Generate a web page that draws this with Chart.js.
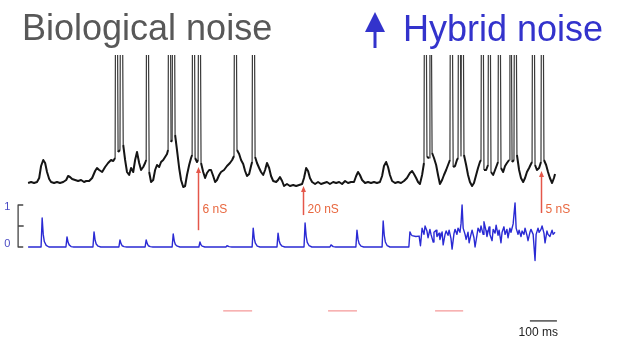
<!DOCTYPE html>
<html>
<head>
<meta charset="utf-8">
<script src="https://cdn.jsdelivr.net/npm/chart.js@4.4.1/dist/chart.umd.min.js"></script>
<style>
  html, body { margin: 0; padding: 0; background: #fff; }
  #wrap { position: relative; width: 618px; height: 342px; }
</style>
</head>
<body>
<div id="wrap"><canvas id="trace"></canvas></div>
<script>
// ─── DATA ────────────────────────────────────────────────────────────────
// membrane potential [ms, mV]; spikes are the +20 mV points (clipped in the figure)
const vmTrace = [
  [0,-65],[11,-64.8],[22,-65],[33,-64.8],[41,-64],[48,-61.6],[56,-60.4],[63,-61],[70,-62.8],[78,-64.2],
  [85,-64.8],[96,-65],[107,-64.8],[118,-65],[130,-64.8],[141,-64.4],[148,-63.6],[155,-63.8],[163,-64.2],
  [174,-64.4],[185,-64.6],[196,-64.4],[207,-64.8],[215,-64.6],[226,-64.6],[237,-64],[248,-62.6],[255,-62],
  [263,-62.4],[274,-62.8],[285,-61.8],[296,-61],[307,-60.4],[315,-60.6],[322,-60],
  [326,20],[333,-58.8],[340,-58.4],[344,20],[352,-57.4],[359,-60.4],[366,-62.8],[374,-63.4],[381,-62],
  [389,-62.8],[396,-60.4],[403,-58.8],[411,-61],[418,-62.4],[426,-61.8],[433,-61],[437,-60.4],[440,20],
  [448,-62.8],[455,-64.8],[463,-64.4],[470,-62.4],[477,-61.4],[485,-61.8],[492,-60.8],[500,-60.4],
  [507,-59.8],[514,-59.2],[518,-58.4],[522,20],[529,-56.8],[533,-56.4],[537,20],[544,-55.4],[551,-58.4],
  [559,-62],[566,-64.4],[574,-65.8],[581,-65.6],[588,-63.4],[596,-61.4],[603,-60],[607,-59.4],[611,20],
  [618,-60],[625,-60.8],[629,-60.4],[633,20],[640,-61],[648,-62.8],[655,-64],[662,-63],[670,-62.4],
  [677,-62.4],[685,-63.6],[692,-64.8],[699,-64.4],[707,-63.4],[714,-62.8],[725,-62.4],[736,-61.6],
  [747,-61],[755,-60.4],[762,-59.6],[766,20],[773,-58.4],[781,-59.2],[788,-60.4],[796,-61.2],[803,-62.6],
  [810,-63.6],[818,-63.2],[825,-61.6],[829,-60.8],[833,20],[840,-59.8],[847,-61],[855,-62],[862,-62.8],
  [870,-63.4],[877,-62.4],[884,-61],[892,-62],[899,-63.6],[907,-64.6],[918,-64.8],[925,-64.4],[932,-63.8],
  [940,-64.6],[947,-65.6],[958,-65.2],[969,-65.6],[981,-65.4],[992,-65.6],[1003,-65.4],[1014,-65.2],
  [1021,-64],[1029,-62],[1036,-62.6],[1043,-64],[1051,-64.8],[1062,-65.2],[1073,-64.8],[1084,-65.2],
  [1095,-65],[1106,-64.8],[1117,-65.2],[1129,-64.8],[1140,-65],[1151,-64.8],[1162,-65.2],[1173,-64.6],
  [1184,-65],[1195,-64.8],[1206,-64.8],[1214,-63.6],[1221,-62.8],[1228,-63.4],[1236,-64.4],[1247,-65],
  [1258,-64.8],[1269,-65],[1280,-64.8],[1291,-65],[1302,-64.8],[1310,-63.6],[1317,-61.6],[1325,-60.8],
  [1332,-61.8],[1339,-63.4],[1347,-64.6],[1358,-65],[1369,-64.8],[1380,-65],[1391,-64.6],[1402,-64],
  [1413,-63],[1421,-62.6],[1428,-63.2],[1436,-64],[1443,-64.8],[1450,-65.2],[1458,-63.4],[1465,-61],
  [1469,20],[1476,-59.8],[1484,-60],[1487,20],[1495,-59],[1502,-60],[1510,-61.4],[1517,-63.4],[1524,-65.2],
  [1532,-64.4],[1539,-63.4],[1547,-62.4],[1554,-61.4],[1561,-60.4],[1565,20],[1573,-61.8],[1580,-61.6],
  [1587,-60.4],[1591,-60],[1595,20],[1602,-59.6],[1606,20],[1613,-59.4],[1621,-61.4],[1628,-63.4],
  [1635,-64.8],[1643,-65.6],[1650,-65],[1658,-63.4],[1665,-62],[1672,-60.8],[1676,-60.4],[1680,20],
  [1687,-62.4],[1695,-62.4],[1702,-61.4],[1706,20],[1713,-62.8],[1721,-63.4],[1728,-62.4],[1735,-61.4],
  [1739,-60.8],[1743,20],[1750,-62],[1758,-62.8],[1765,-61.6],[1772,-61],[1780,-60.4],[1783,20],
  [1791,-60.8],[1798,-60.4],[1802,20],[1809,-59.4],[1817,-62.4],[1824,-64],[1832,-64.8],[1839,-64],
  [1846,-62.8],[1854,-62],[1861,-61.2],[1865,-60.8],[1869,20],[1876,-61.4],[1883,-62.4],[1891,-62],
  [1898,-60.8],[1902,20],[1909,-60.4],[1917,-61.4],[1924,-62.8],[1931,-64],[1939,-65],[1946,-64],[1950,-63.2]
];

// injected conductance, normalised 0..1 [ms, g]
const gTrace = [
  [0,0],[48,0],[52,0.69],[56,0.3],[60,0.13],[67,0.04],[77,0],
  [140,0],[144,0.24],[148,0.11],[152,0.05],[159,0.01],[169,0],
  [240,0],[244,0.36],[248,0.16],[252,0.07],[259,0.02],[269,0],
  [336,0],[340,0.17],[344,0.08],[348,0.03],[355,0.01],[365,0],
  [433,0],[437,0.17],[441,0.08],[445,0.03],[452,0.01],[462,0],
  [533,0],[537,0.31],[541,0.14],[545,0.06],[552,0.02],[562,0],
  [632,0],[636,0.12],[640,0.05],[644,0.02],[654,0],
  [732,0],[736,0.03],[744,0.01],[754,0],
  [829,0],[833,0.45],[837,0.2],[841,0.09],[848,0.02],[858,0],
  [921,0],[925,0.33],[929,0.15],[933,0.07],[940,0.02],[950,0],
  [1021,0],[1025,0.57],[1029,0.26],[1033,0.11],[1040,0.03],[1050,0],
  [1117,0],[1121,0.05],[1129,0.01],[1139,0],
  [1213,0],[1217,0.4],[1221,0.18],[1225,0.08],[1232,0.02],[1242,0],
  [1310,0],[1314,0.62],[1318,0.28],[1322,0.12],[1329,0.03],[1339,0],
  [1409,0],[1413,0.36],[1417,0.3],[1421,0.27],[1435,0.25],[1447,0.26],[1452,0.03],
  // hybrid noise part
  [1458,0.45],[1465,0.3],[1469,0.5],[1476,0.38],[1480,0.22],[1487,0.42],[1491,0.3],[1499,0.12],
  [1502,0.35],[1510,0.4],[1513,0.25],[1521,0.33],[1524,0.18],[1532,0.36],[1536,0.05],[1543,0.3],
  [1547,0.38],[1554,0.28],[1558,0.4],[1565,0.2],[1569,-0.05],[1576,0.32],[1580,0.42],[1587,0.3],
  [1591,0.45],[1598,0.35],[1602,0.55],[1606,1.0],[1610,0.45],[1617,0.3],[1621,0.18],[1628,0.35],
  [1632,0.1],[1639,0.3],[1643,0.4],[1650,0.22],[1654,0],[1661,0.28],[1665,0.45],[1672,0.35],
  [1676,0.5],[1684,0.3],[1687,0.6],[1695,0.38],[1698,0.25],[1706,0.48],[1709,0.3],[1717,0.15],
  [1721,0.42],[1728,0.33],[1732,0.52],[1739,0.28],[1743,0.4],[1750,0.1],[1754,0.35],[1761,0.48],
  [1765,0.3],[1772,0.42],[1776,0.22],[1783,0.45],[1787,0.35],[1795,0.55],[1802,1.05],[1806,0.45],
  [1813,0.3],[1817,0.4],[1824,0.25],[1828,0.38],[1835,0.3],[1839,0.45],[1846,0.28],[1850,0.15],
  [1857,0.35],[1861,0.42],[1869,0.3],[1876,-0.32],[1880,0.3],[1887,0.45],[1891,0.35],[1898,0.42],
  [1902,0.5],[1909,0.33],[1913,0.1],[1920,0.38],[1924,0.3],[1931,0.25],[1939,0.4],[1943,0.3],[1950,0.35]
];

// stimulation markers
const stimTimes  = [629, 1018, 1898];          // ms
const stimLabels = ['6 nS', '20 nS', '5 nS'];
const stimFromG  = [0.40, 0.76, 0.81];         // arrow foot, conductance units
const stimToVm   = [-61.8, -65.6, -62.6];      // arrow tip, mV

// faint stimulus windows under the traces
const windowStart = [722, 1110, 1506];
const windowEnd   = [829, 1217, 1610];
const windowLevel = -1.52;

// scale bars
const gScaleTicks = [0, 0.5, 1];
const gScaleLabels = ['0', '1'];
const timeBar = [1857, 1957];
const timeBarLevel = -1.76;
const timeBarLabel = '100 ms';

const titleLeft = 'Biological noise';
const titleRight = 'Hybrid noise';

// ─── DATASETS ────────────────────────────────────────────────────────────
const toXY = arr => arr.map(([x, y]) => ({ x, y }));
const isSpike = c => c.p0.parsed.y > 0 || c.p1.parsed.y > 0;

const datasets = [
  {
    data: toXY(gTrace), yAxisID: 'g',
    borderColor: '#2a2ad4', borderWidth: 1.4
  },
  {
    data: toXY(vmTrace), yAxisID: 'vm',
    borderColor: '#151515', borderWidth: 2,
    clip: { left: false, top: -55, right: false, bottom: false },
    segment: {
      borderColor: c => isSpike(c) ? '#3a3a3a' : undefined,
      borderWidth: c => isSpike(c) ? 1.2 : undefined
    }
  },
  {
    // 0-1 bracket
    data: [
      { x: -18, y: gScaleTicks[2] }, { x: -37, y: gScaleTicks[2] },
      { x: -37, y: gScaleTicks[1] }, { x: -18, y: gScaleTicks[1] },
      { x: -37, y: gScaleTicks[1] }, { x: -37, y: gScaleTicks[0] },
      { x: -18, y: gScaleTicks[0] }
    ],
    yAxisID: 'g', borderColor: '#444', borderWidth: 1.3
  },
  {
    data: timeBar.map(x => ({ x, y: timeBarLevel })),
    yAxisID: 'g', borderColor: '#333', borderWidth: 1.3
  }
];

windowStart.forEach((s, i) => {
  datasets.push({
    data: [{ x: s, y: windowLevel }, { x: windowEnd[i], y: windowLevel }],
    yAxisID: 'g', borderColor: 'rgba(240, 110, 110, 0.55)', borderWidth: 1.6
  });
});

// ─── OVERLAY: titles, arrows, labels ─────────────────────────────────────
const FONT = '"Liberation Sans", Arial, sans-serif';

const overlay = {
  id: 'overlay',
  afterDatasetsDraw(chart) {
    const { ctx, scales } = chart;
    const x = scales.x, vm = scales.vm, g = scales.g;
    ctx.save();

    // titles
    ctx.font = '36px ' + FONT;
    ctx.textAlign = 'left';
    ctx.textBaseline = 'alphabetic';
    ctx.fillStyle = '#585858';
    ctx.fillText(titleLeft, 22, 40);
    ctx.fillStyle = '#3333cc';
    ctx.fillText(titleRight, 403, 41);

    // blue up arrow next to "Hybrid noise"
    ctx.fillStyle = '#3333cc';
    ctx.fillRect(373.5, 30, 3, 18);
    ctx.beginPath();
    ctx.moveTo(375, 12);
    ctx.lineTo(385, 32);
    ctx.lineTo(365, 32);
    ctx.closePath();
    ctx.fill();

    // stimulation arrows
    stimTimes.forEach((t, i) => {
      const px = Math.round(x.getPixelForValue(t)) + 0.5;
      const yb = g.getPixelForValue(stimFromG[i]);
      const yt = vm.getPixelForValue(stimToVm[i]);
      ctx.strokeStyle = '#e4574a';
      ctx.lineWidth = 1.5;
      ctx.beginPath();
      ctx.moveTo(px, yb);
      ctx.lineTo(px, yt + 4);
      ctx.stroke();
      ctx.fillStyle = '#e4574a';
      ctx.beginPath();
      ctx.moveTo(px, yt);
      ctx.lineTo(px + 2.5, yt + 6);
      ctx.lineTo(px - 2.5, yt + 6);
      ctx.closePath();
      ctx.fill();

      ctx.font = '12px ' + FONT;
      ctx.fillStyle = '#e8673f';
      ctx.textBaseline = 'middle';
      ctx.fillText(stimLabels[i], px + 4, g.getPixelForValue(0.9));
    });

    // 0 / 1 labels of the conductance bracket
    ctx.font = '11px ' + FONT;
    ctx.fillStyle = '#4a4ac4';
    ctx.textAlign = 'right';
    ctx.textBaseline = 'middle';
    const lx = x.getPixelForValue(-66);
    ctx.fillText(gScaleLabels[1], lx, g.getPixelForValue(1) + 2);
    ctx.fillText(gScaleLabels[0], lx, g.getPixelForValue(0) - 3);

    // time bar label
    ctx.font = '12px ' + FONT;
    ctx.fillStyle = '#222';
    ctx.textAlign = 'right';
    ctx.textBaseline = 'middle';
    ctx.fillText(timeBarLabel, x.getPixelForValue(timeBar[1]) + 1, g.getPixelForValue(timeBarLevel) + 12);

    ctx.restore();
  }
};

// ─── CHART ───────────────────────────────────────────────────────────────
new Chart(document.getElementById('trace'), {
  type: 'line',
  data: { datasets },
  options: {
    responsive: true,
    maintainAspectRatio: false,
    animation: false,
    layout: { padding: 0 },
    elements: {
      point: { radius: 0, hoverRadius: 0 },
      line: { tension: 0, borderJoinStyle: 'round', borderCapStyle: 'butt', fill: false }
    },
    scales: {
      x:  { type: 'linear', display: false, min: -104, max: 2183 },
      vm: { type: 'linear', display: false, min: -96.8, max: -28.4 },
      g:  { type: 'linear', display: false, min: -2.262, max: 5.881 }
    },
    plugins: {
      legend: { display: false },
      tooltip: { enabled: false }
    },
    events: []
  },
  plugins: [overlay]
});
</script>
</body>
</html>
